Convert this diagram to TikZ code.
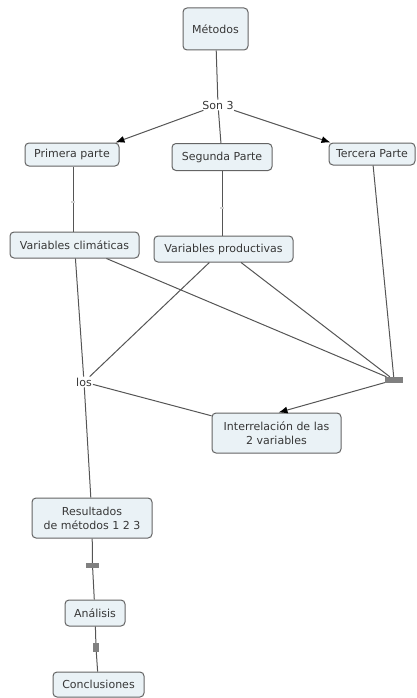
\documentclass[tikz,border=0pt]{standalone}
\usepackage{fontspec}
\setmainfont{DejaVu Sans}
\usetikzlibrary{arrows.meta}
\definecolor{boxfill}{RGB}{234,242,246}
\definecolor{boxline}{RGB}{100,100,100}
\definecolor{wirecol}{RGB}{85,85,85}
\definecolor{ink}{RGB}{55,55,55}
\definecolor{barfill}{RGB}{128,128,128}
\begin{document}
\begin{tikzpicture}[x=1pt,y=-1pt,
  concept/.style={draw=boxline, fill=boxfill, rounded corners=4pt, line width=1pt,
    inner sep=0pt, align=center, text=ink, font=\fontsize{11}{14}\selectfont},
  phrase/.style={inner sep=1pt, text=ink, font=\fontsize{11}{14}\selectfont},
  bar/.style={fill=barfill, inner sep=0pt},
  tick/.style={fill=gray!35, inner sep=0pt, minimum width=4pt, minimum height=1.2pt},
  wire/.style={draw=wirecol, line width=1pt},
  arrow/.style={wire, -{Latex[length=9pt,width=7pt,color=black]}}]

\useasboundingbox (0,0) rectangle (417,698);

% concepts and linking phrases
\node[concept, minimum width=65pt, minimum height=42pt] (met) at (215.5,29) {Métodos};
\node[phrase] (son) at (218,105) {Son 3};
\node[concept, minimum width=94pt, minimum height=23pt] (prim) at (72,154.5) {Primera parte};
\node[concept, minimum width=100pt, minimum height=27pt] (seg) at (222,157) {Segunda Parte};
\node[concept, minimum width=86pt, minimum height=22pt] (terc) at (372,154) {Tercera Parte};
\node[concept, minimum width=129pt, minimum height=26pt] (vclim) at (74.5,245) {Variables climáticas};
\node[concept, minimum width=139pt, minimum height=26pt] (vprod) at (223.5,249) {Variables productivas};
\node[phrase] (los) at (84,382) {los};
\node[bar, minimum width=18pt, minimum height=6pt] (jn) at (394,380) {};
\node[concept, minimum width=129pt, minimum height=40pt] (inter) at (276.5,433) {Interrelación de las\\2 variables};
\node[concept, minimum width=120pt, minimum height=40pt] (res) at (92,518) {Resultados\\de métodos 1 2 3};
\node[bar, minimum width=13pt, minimum height=5pt] (b1) at (92.5,565.5) {};
\node[concept, minimum width=60pt, minimum height=26pt] (ana) at (95,613) {Análisis};
\node[bar, minimum width=6pt, minimum height=9pt] (b2) at (96,647.5) {};
\node[concept, minimum width=91pt, minimum height=25pt] (conc) at (98.5,684.5) {Conclusiones};
\node[tick] (t1) at (73,202) {};
\node[tick] (t2) at (222,208) {};

% links
\draw[wire] (met) -- (son);
\draw[arrow] (son) -- ([xshift=-4pt]prim.north east);
\draw[wire] (son) -- (seg);
\draw[arrow] (son) -- ([xshift=2pt]terc.north west);
\draw[wire] (t1 |- prim.south) -- (t1) -- (t1 |- vclim.north);
\draw[wire] (t2 |- seg.south) -- (t2) -- (t2 |- vprod.north);
\draw[wire] (vclim) -- (los);
\draw[wire] (los) -- (res);
\draw[wire] (vprod) -- (los);
\draw[wire] (los) -- (inter);
\draw[wire] (vclim) -- (jn);
\draw[wire] (vprod) -- (jn);
\draw[wire] (terc) -- (jn);
\draw[arrow] (jn) -- ([xshift=2pt]inter.north);
\draw[wire] (res) -- (b1);
\draw[wire] (b1) -- (ana);
\draw[wire] (ana) -- (b2);
\draw[wire] (b2) -- (conc);
\end{tikzpicture}
\end{document}
